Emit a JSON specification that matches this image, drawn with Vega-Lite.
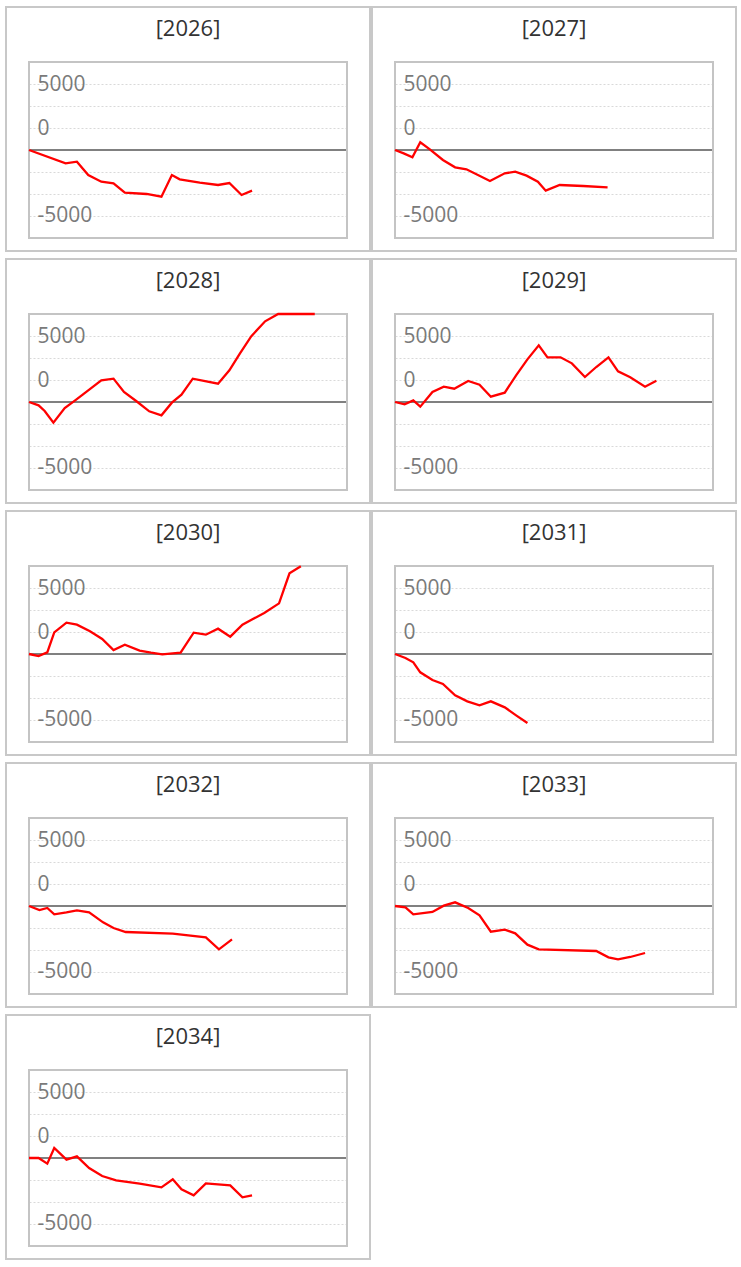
{
  "$schema": "https://vega.github.io/schema/vega-lite/v6.json",
  "padding": {"left": 5, "top": 6, "right": 4, "bottom": 4},
  "background": "white",
  "data": {"values": [
    {"panel": "[2026]", "day": 0, "value": 0},
    {"panel": "[2026]", "day": 42, "value": -1010},
    {"panel": "[2026]", "day": 55, "value": -884},
    {"panel": "[2026]", "day": 68, "value": -1894},
    {"panel": "[2026]", "day": 83, "value": -2399},
    {"panel": "[2026]", "day": 97, "value": -2525},
    {"panel": "[2026]", "day": 110, "value": -3232},
    {"panel": "[2026]", "day": 135, "value": -3333},
    {"panel": "[2026]", "day": 152, "value": -3535},
    {"panel": "[2026]", "day": 164, "value": -1894},
    {"panel": "[2026]", "day": 173, "value": -2222},
    {"panel": "[2026]", "day": 196, "value": -2475},
    {"panel": "[2026]", "day": 217, "value": -2651},
    {"panel": "[2026]", "day": 230, "value": -2500},
    {"panel": "[2026]", "day": 244, "value": -3409},
    {"panel": "[2026]", "day": 256, "value": -3081},

    {"panel": "[2027]", "day": 0, "value": 0},
    {"panel": "[2027]", "day": 10, "value": -253},
    {"panel": "[2027]", "day": 20, "value": -556},
    {"panel": "[2027]", "day": 29, "value": 581},
    {"panel": "[2027]", "day": 40, "value": 50},
    {"panel": "[2027]", "day": 55, "value": -758},
    {"panel": "[2027]", "day": 69, "value": -1313},
    {"panel": "[2027]", "day": 82, "value": -1465},
    {"panel": "[2027]", "day": 109, "value": -2348},
    {"panel": "[2027]", "day": 126, "value": -1768},
    {"panel": "[2027]", "day": 138, "value": -1641},
    {"panel": "[2027]", "day": 151, "value": -1944},
    {"panel": "[2027]", "day": 164, "value": -2399},
    {"panel": "[2027]", "day": 173, "value": -3081},
    {"panel": "[2027]", "day": 189, "value": -2651},
    {"panel": "[2027]", "day": 216, "value": -2727},
    {"panel": "[2027]", "day": 244, "value": -2828},

    {"panel": "[2028]", "day": 0, "value": 0},
    {"panel": "[2028]", "day": 11, "value": -253},
    {"panel": "[2028]", "day": 18, "value": -682},
    {"panel": "[2028]", "day": 28, "value": -1566},
    {"panel": "[2028]", "day": 41, "value": -455},
    {"panel": "[2028]", "day": 53, "value": 126},
    {"panel": "[2028]", "day": 68, "value": 884},
    {"panel": "[2028]", "day": 83, "value": 1641},
    {"panel": "[2028]", "day": 97, "value": 1768},
    {"panel": "[2028]", "day": 109, "value": 758},
    {"panel": "[2028]", "day": 123, "value": 76},
    {"panel": "[2028]", "day": 138, "value": -707},
    {"panel": "[2028]", "day": 152, "value": -1010},
    {"panel": "[2028]", "day": 164, "value": -50},
    {"panel": "[2028]", "day": 175, "value": 556},
    {"panel": "[2028]", "day": 188, "value": 1768},
    {"panel": "[2028]", "day": 217, "value": 1389},
    {"panel": "[2028]", "day": 230, "value": 2399},
    {"panel": "[2028]", "day": 242, "value": 3661},
    {"panel": "[2028]", "day": 255, "value": 4974},
    {"panel": "[2028]", "day": 271, "value": 6111},
    {"panel": "[2028]", "day": 286, "value": 6667},
    {"panel": "[2028]", "day": 299, "value": 7100},
    {"panel": "[2028]", "day": 314, "value": 7400},
    {"panel": "[2028]", "day": 328, "value": 7600},

    {"panel": "[2029]", "day": 0, "value": 0},
    {"panel": "[2029]", "day": 11, "value": -177},
    {"panel": "[2029]", "day": 21, "value": 126},
    {"panel": "[2029]", "day": 29, "value": -354},
    {"panel": "[2029]", "day": 43, "value": 758},
    {"panel": "[2029]", "day": 56, "value": 1162},
    {"panel": "[2029]", "day": 68, "value": 1010},
    {"panel": "[2029]", "day": 84, "value": 1591},
    {"panel": "[2029]", "day": 97, "value": 1313},
    {"panel": "[2029]", "day": 110, "value": 404},
    {"panel": "[2029]", "day": 126, "value": 707},
    {"panel": "[2029]", "day": 139, "value": 2020},
    {"panel": "[2029]", "day": 152, "value": 3232},
    {"panel": "[2029]", "day": 165, "value": 4293},
    {"panel": "[2029]", "day": 175, "value": 3384},
    {"panel": "[2029]", "day": 190, "value": 3384},
    {"panel": "[2029]", "day": 203, "value": 2929},
    {"panel": "[2029]", "day": 218, "value": 1894},
    {"panel": "[2029]", "day": 231, "value": 2651},
    {"panel": "[2029]", "day": 245, "value": 3384},
    {"panel": "[2029]", "day": 256, "value": 2323},
    {"panel": "[2029]", "day": 270, "value": 1869},
    {"panel": "[2029]", "day": 287, "value": 1162},
    {"panel": "[2029]", "day": 300, "value": 1616},

    {"panel": "[2030]", "day": 0, "value": 0},
    {"panel": "[2030]", "day": 11, "value": -152},
    {"panel": "[2030]", "day": 21, "value": 126},
    {"panel": "[2030]", "day": 29, "value": 1641},
    {"panel": "[2030]", "day": 43, "value": 2374},
    {"panel": "[2030]", "day": 55, "value": 2222},
    {"panel": "[2030]", "day": 70, "value": 1717},
    {"panel": "[2030]", "day": 84, "value": 1136},
    {"panel": "[2030]", "day": 97, "value": 303},
    {"panel": "[2030]", "day": 110, "value": 707},
    {"panel": "[2030]", "day": 127, "value": 253},
    {"panel": "[2030]", "day": 140, "value": 101},
    {"panel": "[2030]", "day": 153, "value": -25},
    {"panel": "[2030]", "day": 165, "value": 50},
    {"panel": "[2030]", "day": 174, "value": 101},
    {"panel": "[2030]", "day": 189, "value": 1616},
    {"panel": "[2030]", "day": 203, "value": 1465},
    {"panel": "[2030]", "day": 217, "value": 1919},
    {"panel": "[2030]", "day": 231, "value": 1313},
    {"panel": "[2030]", "day": 245, "value": 2222},
    {"panel": "[2030]", "day": 257, "value": 2651},
    {"panel": "[2030]", "day": 270, "value": 3106},
    {"panel": "[2030]", "day": 287, "value": 3838},
    {"panel": "[2030]", "day": 299, "value": 6111},
    {"panel": "[2030]", "day": 312, "value": 6650},

    {"panel": "[2031]", "day": 0, "value": 0},
    {"panel": "[2031]", "day": 12, "value": -303},
    {"panel": "[2031]", "day": 21, "value": -631},
    {"panel": "[2031]", "day": 29, "value": -1389},
    {"panel": "[2031]", "day": 43, "value": -1969},
    {"panel": "[2031]", "day": 55, "value": -2273},
    {"panel": "[2031]", "day": 69, "value": -3131},
    {"panel": "[2031]", "day": 83, "value": -3586},
    {"panel": "[2031]", "day": 97, "value": -3889},
    {"panel": "[2031]", "day": 110, "value": -3586},
    {"panel": "[2031]", "day": 126, "value": -4040},
    {"panel": "[2031]", "day": 139, "value": -4646},
    {"panel": "[2031]", "day": 152, "value": -5227},

    {"panel": "[2032]", "day": 0, "value": 0},
    {"panel": "[2032]", "day": 12, "value": -303},
    {"panel": "[2032]", "day": 21, "value": -152},
    {"panel": "[2032]", "day": 29, "value": -631},
    {"panel": "[2032]", "day": 43, "value": -480},
    {"panel": "[2032]", "day": 55, "value": -328},
    {"panel": "[2032]", "day": 69, "value": -480},
    {"panel": "[2032]", "day": 85, "value": -1237},
    {"panel": "[2032]", "day": 97, "value": -1667},
    {"panel": "[2032]", "day": 111, "value": -1970},
    {"panel": "[2032]", "day": 165, "value": -2096},
    {"panel": "[2032]", "day": 203, "value": -2374},
    {"panel": "[2032]", "day": 218, "value": -3283},
    {"panel": "[2032]", "day": 233, "value": -2525},

    {"panel": "[2033]", "day": 0, "value": 0},
    {"panel": "[2033]", "day": 12, "value": -101},
    {"panel": "[2033]", "day": 21, "value": -631},
    {"panel": "[2033]", "day": 43, "value": -455},
    {"panel": "[2033]", "day": 56, "value": 25},
    {"panel": "[2033]", "day": 69, "value": 278},
    {"panel": "[2033]", "day": 84, "value": -152},
    {"panel": "[2033]", "day": 97, "value": -707},
    {"panel": "[2033]", "day": 110, "value": -1944},
    {"panel": "[2033]", "day": 126, "value": -1793},
    {"panel": "[2033]", "day": 138, "value": -2071},
    {"panel": "[2033]", "day": 152, "value": -2929},
    {"panel": "[2033]", "day": 165, "value": -3283},
    {"panel": "[2033]", "day": 231, "value": -3409},
    {"panel": "[2033]", "day": 245, "value": -3889},
    {"panel": "[2033]", "day": 256, "value": -4040},
    {"panel": "[2033]", "day": 270, "value": -3864},
    {"panel": "[2033]", "day": 287, "value": -3560},

    {"panel": "[2034]", "day": 0, "value": 0},
    {"panel": "[2034]", "day": 11, "value": 0},
    {"panel": "[2034]", "day": 21, "value": -429},
    {"panel": "[2034]", "day": 29, "value": 758},
    {"panel": "[2034]", "day": 43, "value": -126},
    {"panel": "[2034]", "day": 55, "value": 126},
    {"panel": "[2034]", "day": 69, "value": -758},
    {"panel": "[2034]", "day": 84, "value": -1364},
    {"panel": "[2034]", "day": 100, "value": -1692},
    {"panel": "[2034]", "day": 127, "value": -1944},
    {"panel": "[2034]", "day": 152, "value": -2222},
    {"panel": "[2034]", "day": 165, "value": -1616},
    {"panel": "[2034]", "day": 175, "value": -2374},
    {"panel": "[2034]", "day": 189, "value": -2828},
    {"panel": "[2034]", "day": 203, "value": -1919},
    {"panel": "[2034]", "day": 231, "value": -2071},
    {"panel": "[2034]", "day": 245, "value": -2980},
    {"panel": "[2034]", "day": 256, "value": -2828}
  ]},
  "facet": {"field": "panel", "type": "nominal", "title": null, "header": {"title": null, "labels": false, "labelFontSize": 0, "labelPadding": 0, "labelExpr": "''"}},
  "columns": 2,
  "spacing": {"row": 6, "column": 0},
  "resolve": {"axis": {"y": "independent"}},
  "spec": {
    "width": 364,
    "height": 244,
    "layer": [
      {
        "transform": [{"aggregate": [{"op": "count", "as": "n"}], "groupby": ["panel"]}],
        "mark": {"type": "rule", "color": "#808080", "strokeWidth": 2},
        "encoding": {
          "x": {"datum": 0, "type": "quantitative", "scale": {"domain": [0, 365], "range": [23, 341]}, "axis": null},
          "x2": {"datum": 365},
          "y": {"datum": 0, "type": "quantitative", "scale": {"domain": [-6667, 6667], "range": [231, 55], "clamp": true}, "title": null}
        }
      },
      {
        "transform": [{"aggregate": [{"op": "count", "as": "n"}], "groupby": ["panel"]}],
        "mark": {"type": "rect", "fill": null, "stroke": "#c4c4c4", "strokeWidth": 2},
        "encoding": {
          "x": {"datum": 0, "type": "quantitative", "scale": {"domain": [0, 365], "range": [23, 341]}, "axis": null},
          "x2": {"datum": 365},
          "y": {"datum": -6667, "type": "quantitative", "scale": {"domain": [-6667, 6667], "range": [231, 55], "clamp": true}, "title": null},
          "y2": {"datum": 6667}
        }
      },
      {
        "transform": [{"aggregate": [{"op": "count", "as": "n"}], "groupby": ["panel"]}],
        "mark": {"type": "text", "font": "Open Sans", "fontSize": 22, "color": "#333333", "baseline": "middle", "align": "center", "dy": -33},
        "encoding": {
          "x": {"datum": 182.5, "type": "quantitative", "scale": {"domain": [0, 365], "range": [23, 341]}, "axis": null},
          "y": {"datum": 6667, "type": "quantitative", "scale": {"domain": [-6667, 6667], "range": [231, 55], "clamp": true}, "title": null},
          "text": {"field": "panel", "type": "nominal"}
        }
      },
      {
        "mark": {"type": "line", "color": "#ff0000", "strokeWidth": 2.3},
        "encoding": {
          "x": {"field": "day", "type": "quantitative", "scale": {"domain": [0, 365], "range": [23, 341]}, "axis": null},
          "y": {
            "field": "value", "type": "quantitative",
            "scale": {"domain": [-6667, 6667], "range": [231, 55], "clamp": true},
            "title": null,
            "axis": {
              "values": [-5000, -3333.33, -1666.67, 1666.67, 3333.33, 5000],
              "labelExpr": "datum.value == 5000 ? '5000' : (datum.value == -5000 ? '-5000' : (datum.value > 1000 && datum.value < 2000 ? '0' : ''))",
              "grid": true, "gridDash": [2, 2], "gridColor": "#d9d9d9", "gridWidth": 1,
              "domain": false, "ticks": false,
              "labelAlign": "left", "labelBaseline": "middle", "labelPadding": -31,
              "labelFont": "Open Sans", "labelFontSize": 21, "labelColor": "#7a7a7a",
              "labelOverlap": false, "labelFlush": false, "labelBound": false
            }
          }
        }
      }
    ]
  },
  "config": {
    "view": {"stroke": "#c8c8c8", "strokeWidth": 2},
    "header": {"labels": false, "title": null, "labelFontSize": 0, "labelPadding": 0},
    "headerFacet": {"labels": false, "title": null, "labelFontSize": 0, "labelPadding": 0}
  }
}
